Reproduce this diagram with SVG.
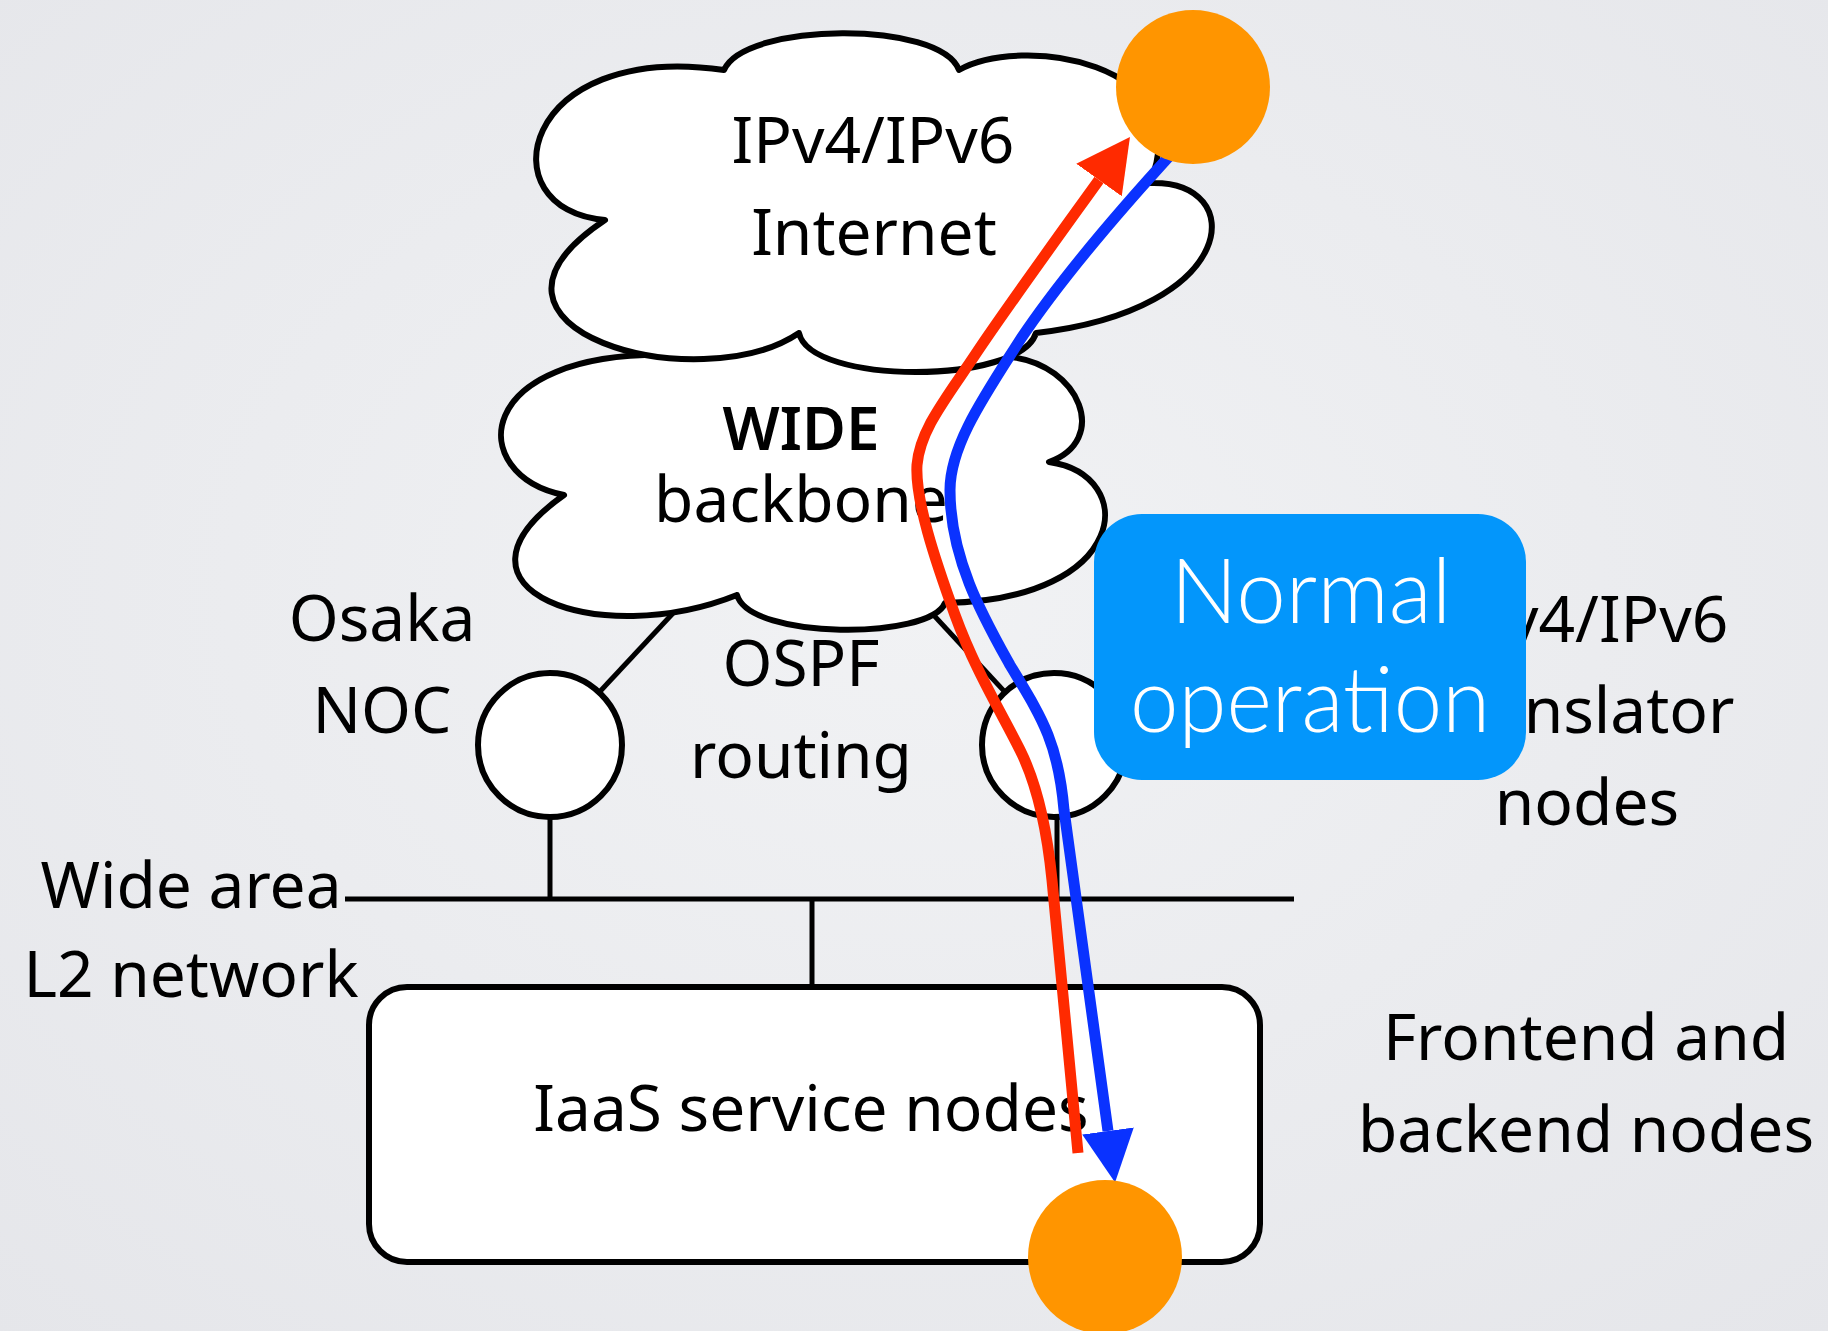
<svg xmlns="http://www.w3.org/2000/svg" width="1828" height="1331" viewBox="0 0 1828 1331">
  <defs>
    <radialGradient id="bg" cx="50%" cy="45%" r="75%">
      <stop offset="0" stop-color="#f1f2f4"/>
      <stop offset="1" stop-color="#e5e6ea"/>
    </radialGradient>
    <!-- arrowheads for the traffic flows -->
    <marker id="headRed" markerUnits="userSpaceOnUse" markerWidth="56" markerHeight="60" viewBox="0 -30 56 60" refX="0" refY="0" orient="auto">
      <path d="M0,-28 L53,0 L0,28 Z" fill="#ff2a00"/>
    </marker>
    <marker id="headBlue" markerUnits="userSpaceOnUse" markerWidth="56" markerHeight="60" viewBox="0 -30 56 60" refX="0" refY="0" orient="auto">
      <path d="M0,-26 L52,0 L0,26 Z" fill="#0a32ff"/>
    </marker>
    <style>
      .link { stroke: #000; stroke-width: 5; fill: none; }
      .shape { fill: #fff; stroke: #000; stroke-width: 6; stroke-linejoin: round; }
      .t { font-family: "Noto Sans", "Liberation Sans", sans-serif; font-size: 64px; fill: #000; text-anchor: middle; }
      .bold { font-weight: 600; font-size: 60px; }
      .flow { fill: none; stroke-width: 11; stroke-linecap: butt; stroke-linejoin: round; }
      .endpoint { fill: #ff9500; }
      .callout { font-family: "Lato", "Noto Sans", sans-serif; font-weight: 300; font-size: 90px; fill: #fff; text-anchor: middle; }
    </style>
  </defs>

  <rect width="1828" height="1331" fill="url(#bg)"/>

  <!-- physical links: cloud to routers, routers to bus, bus to service box -->
  <g id="links">
    <line class="link" x1="690" y1="595" x2="550" y2="745"/>
    <line class="link" x1="915" y1="595" x2="1054" y2="745"/>
    <line class="link" x1="550" y1="745" x2="550" y2="899"/>
    <line class="link" x1="1057" y1="745" x2="1057" y2="899"/>
    <line class="link" x1="345" y1="899" x2="1294" y2="899" stroke-width="5.5"/>
    <line class="link" x1="812" y1="899" x2="812" y2="990"/>
  </g>

  <g id="wide-backbone">
    <path class="shape" d="M672,355 C700,320 990,315 1011,357 C1080,365 1110,440 1049,462 C1140,475 1130,600 945,603 C930,640 750,640 737,595 C600,650 430,590 564,495 C465,475 470,350 672,355 Z"/>
    <text class="t bold" x="801" y="450">WIDE</text>
    <text class="t" x="801" y="522">backbone</text>
  </g>

  <g id="internet">
    <path class="shape" d="M724,70 C745,22 940,20 959,70 C1020,35 1200,60 1150,183 C1250,180 1240,310 1036,333 C1020,385 810,385 799,333 C700,400 440,330 605,220 C485,210 520,40 724,70 Z"/>
    <text class="t" x="873" y="163">IPv4/IPv6</text>
    <text class="t" x="874" y="255">Internet</text>
  </g>

  <g id="osaka-noc">
    <circle class="shape" cx="550" cy="745" r="72"/>
    <text class="t" x="382" y="641">Osaka</text>
    <text class="t" x="382" y="733">NOC</text>
  </g>

  <g id="ospf-label">
    <text class="t" x="801" y="686">OSPF</text>
    <text class="t" x="801" y="778">routing</text>
  </g>

  <g id="translator">
    <circle class="shape" cx="1054" cy="745" r="72"/>
    <text class="t" x="1587" y="642">IPv4/IPv6</text>
    <text class="t" x="1587" y="733">translator</text>
    <text class="t" x="1587" y="825">nodes</text>
  </g>

  <g id="l2-network">
    <text class="t" x="191" y="908">Wide area</text>
    <text class="t" x="191" y="997">L2 network</text>
  </g>

  <g id="iaas">
    <rect class="shape" x="369" y="987" width="891" height="275" rx="38" ry="38"/>
    <text class="t" x="811" y="1131">IaaS service nodes</text>
  </g>

  <g id="frontend-label">
    <text class="t" x="1586" y="1060">Frontend and</text>
    <text class="t" x="1586" y="1152">backend nodes</text>
  </g>

  <!-- traffic flows between the service node and the Internet host -->
  <g id="flows">
    <path class="flow" stroke="#ff2a00" marker-end="url(#headRed)" d="M1078,1153 L1052,880 C1046,820 1035,780 1020,750 C1000,710 975,670 955,615 C935,560 915,500 917,465 C920,430 945,400 975,355 C1005,310 1045,255 1099,180"/>
    <path class="flow" stroke="#0a32ff" marker-end="url(#headBlue)" d="M1175,150 C1120,210 1060,280 1020,340 C985,395 950,445 950,490 C950,560 985,620 1010,665 C1040,715 1058,740 1064,810 L1108,1131"/>
  </g>

  <g id="internet-host">
    <circle class="endpoint" cx="1193" cy="87" r="77"/>
  </g>
  <g id="service-host">
    <circle class="endpoint" cx="1105" cy="1257" r="77"/>
  </g>

  <g id="normal-operation">
    <rect x="1094" y="514" width="432" height="266" rx="48" ry="48" fill="#0396fb"/>
    <text class="callout" x="1311" y="623" textLength="281" lengthAdjust="spacingAndGlyphs">Normal</text>
    <text class="callout" x="1310" y="732" textLength="360" lengthAdjust="spacingAndGlyphs">operation</text>
  </g>
</svg>
